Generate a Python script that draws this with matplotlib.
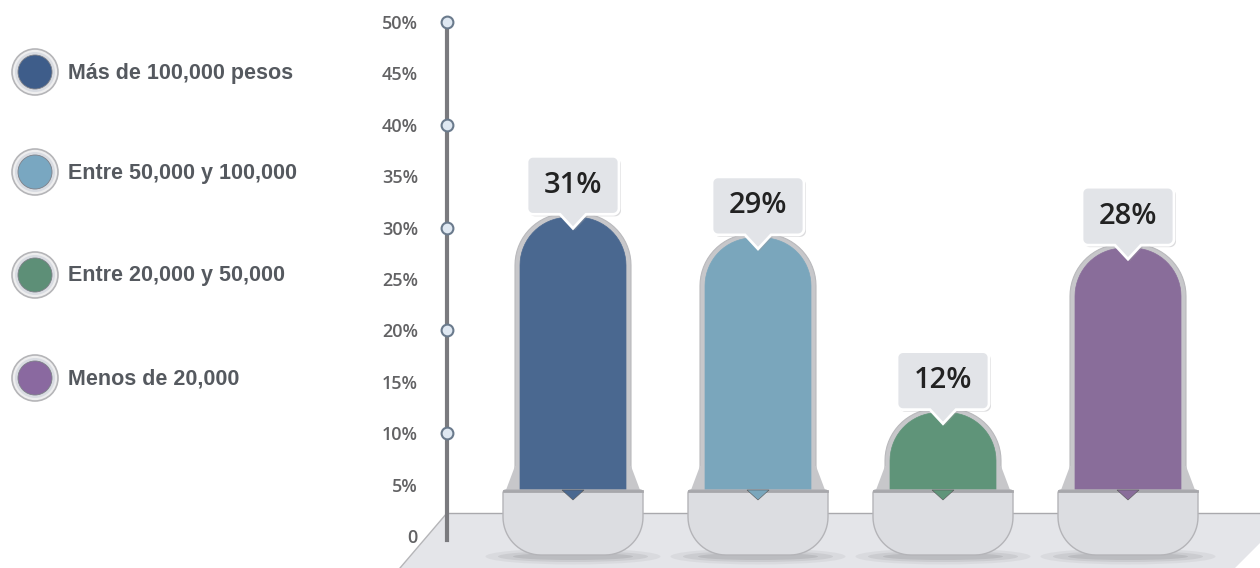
import numpy as np
import matplotlib
matplotlib.use("Agg")
import matplotlib.pyplot as plt
from matplotlib.patches import Polygon, Circle, Ellipse
from matplotlib import font_manager

# datos
categorias = ['Más de 100,000 pesos', 'Entre 50,000 y 100,000',
              'Entre 20,000 y 50,000', 'Menos de 20,000']
valores = [31, 29, 12, 28]
colores_barra = ['#4a6890', '#7aa6bc', '#5f9479', '#896d9a']
colores_leyenda = ['#3e5d8a', '#79a7c1', '#5d8f77', '#8a69a0']
ticks_y = list(range(0, 55, 5))
ticks_circulo = [10, 20, 30, 40, 50]

W, H = 1260, 568
AX_LEFT = 447          # pixel del eje vertical
ZERO_PX, TOP_PX = 536, 22
PX_CAT = 185           # separacion entre barras
X0_PX = 573            # centro de la primera barra

ppu_y = (ZERO_PX - TOP_PX) / 50.0
sy = 1 / ppu_y
sx = 1 / PX_CAT

nombres = {f.name for f in font_manager.fontManager.ttflist}
fuente_ley = [f for f in ['Liberation Sans Narrow', 'DejaVu Sans Condensed',
                          'Liberation Sans'] if f in nombres][:1] + ['DejaVu Sans']


def rrect(x0, x1, y0, y1, rt, rb, notch=None, n=18):
    """rectangulo con esquinas redondeadas (radios en px)"""
    def arc(cx, cy, r, a0, a1):
        t = np.linspace(a0, a1, n)
        return [(cx + r * sx * np.cos(a), cy + r * sy * np.sin(a)) for a in t]
    pts = []
    if rb > 0:
        pts += arc(x0 + rb * sx, y0 + rb * sy, rb, np.pi, 1.5 * np.pi)
    else:
        pts.append((x0, y0))
    if notch is not None:
        cx, w, h = notch
        pts += [(cx - w / 2 * sx, y0), (cx, y0 - h * sy), (cx + w / 2 * sx, y0)]
    if rb > 0:
        pts += arc(x1 - rb * sx, y0 + rb * sy, rb, 1.5 * np.pi, 2 * np.pi)
    else:
        pts.append((x1, y0))
    if rt > 0:
        pts += arc(x1 - rt * sx, y1 - rt * sy, rt, 0, 0.5 * np.pi)
        pts += arc(x0 + rt * sx, y1 - rt * sy, rt, 0.5 * np.pi, np.pi)
    else:
        pts += [(x1, y1), (x0, y1)]
    return pts


fig = plt.figure(figsize=(W / 100, H / 100), dpi=100)
fig.patch.set_facecolor('white')

ax = fig.add_axes([AX_LEFT / W, 0, 1 - AX_LEFT / W, 1])
ax.set_xlim(-(X0_PX - AX_LEFT) / PX_CAT, (W - X0_PX) / PX_CAT)
ax.set_ylim(-(H - ZERO_PX) * sy, 50 + TOP_PX * sy)
ax.set_facecolor('none')
for s in ['top', 'right', 'bottom']:
    ax.spines[s].set_visible(False)
ax.spines['left'].set_bounds(-0.4, 50)
ax.spines['left'].set_color('#7a7a7e')
ax.spines['left'].set_linewidth(3)
ax.spines['left'].set_zorder(6)
ax.set_xticks([])
ax.set_yticks(ticks_y)
ax.set_yticklabels(['0' if v == 0 else f'{v}%' for v in ticks_y])
ax.set_yticks(ticks_circulo, minor=True)
ax.tick_params(axis='y', which='major', length=0, pad=21, labelsize=13,
               labelcolor='#626264')
ax.tick_params(axis='y', which='minor', length=13, width=2.5, color='#7a7a7e')
for lab in ax.get_yticklabels():
    lab.set_fontfamily(['Open Sans', 'DejaVu Sans'])
    lab.set_fontweight('semibold')
ax.plot([0] * len(ticks_circulo), ticks_circulo, 'o', ms=8.5, mfc='#dfe8f2',
        mec='#6a7a8c', mew=1.5, transform=ax.get_yaxis_transform(),
        clip_on=False, zorder=7)

# piso
y_piso = (ZERO_PX - 513) * sy
y_fondo = -(H - ZERO_PX) * sy
x_izq = -(X0_PX - AX_LEFT) / PX_CAT
piso = [(x_izq, y_piso), ((1290 - X0_PX) / PX_CAT, y_piso),
        ((1235 - X0_PX) / PX_CAT, y_fondo), ((400 - X0_PX) / PX_CAT, y_fondo)]
ax.add_patch(Polygon(piso, closed=True, fc='#e4e5e9', ec='none',
                     clip_on=False, zorder=0))
ax.plot([x_izq, (1290 - X0_PX) / PX_CAT], [y_piso, y_piso], color='#a9a9ad',
        lw=1, clip_on=False, zorder=0.5)
ax.plot([x_izq, (400 - X0_PX) / PX_CAT], [y_piso, y_fondo], color='#b5b5b8',
        lw=1, clip_on=False, zorder=0.5)

# barras tipo capsula
cup_top = (ZERO_PX - 490) * sy
cup_bot = -(555 - ZERO_PX) * sy
for i, (v, c) in enumerate(zip(valores, colores_barra)):
    xc = i
    # sombra
    for w, h, a in [(175, 16, 0.10), (150, 11, 0.15), (120, 7, 0.2)]:
        ax.add_patch(Ellipse((xc, cup_bot - 1.5 * sy), w * sx, h * sy,
                             fc='#7d7d80', ec='none', alpha=a, zorder=1))
    # borde gris con ensanche
    rim = rrect(xc - 58 * sx, xc + 58 * sx, cup_top, v + 4 * sy, 52, 0)
    ax.add_patch(Polygon(rim, closed=True, fc='#c7c7ca', ec='#b9b9bc', lw=0.8,
                         zorder=2))
    flare = [(xc - 67 * sx, cup_top), (xc - 58 * sx, cup_top + 24 * sy),
             (xc + 58 * sx, cup_top + 24 * sy), (xc + 67 * sx, cup_top)]
    ax.add_patch(Polygon(flare, closed=True, fc='#c7c7ca', ec='none', zorder=2))
    # barra de color
    bar = rrect(xc - 53 * sx, xc + 53 * sx, cup_top - 1 * sy, v, 48, 0)
    ax.add_patch(Polygon(bar, closed=True, fc=c, ec=c, lw=0.5, zorder=3))
    # copa
    cup = rrect(xc - 70 * sx, xc + 70 * sx, cup_bot, cup_top, 3, 38)
    ax.add_patch(Polygon(cup, closed=True, fc='#dcdde1', ec='#b4b4b8', lw=1,
                         zorder=4))
    ax.plot([xc - 69 * sx, xc + 69 * sx], [cup_top - 1 * sy] * 2,
            color='#a7a7ab', lw=2, zorder=4.5)
    ax.add_patch(Polygon([(xc - 11 * sx, cup_top), (xc + 11 * sx, cup_top),
                          (xc, cup_top - 10 * sy)], closed=True, fc=c,
                         ec='#555555', lw=0.4, zorder=5))
    # etiqueta
    b0 = v + 3 * sy
    b1 = b0 + 58 * sy
    box = rrect(xc - 46 * sx, xc + 46 * sx, b0, b1, 6, 6, notch=(xc, 26, 14))
    sombra = [(px + 2 * sx, py - 2 * sy) for px, py in box]
    ax.add_patch(Polygon(sombra, closed=True, fc='#9a9a9e', ec='none',
                         alpha=0.35, zorder=7))
    ax.add_patch(Polygon(box, closed=True, fc='#e2e4e8', ec='white', lw=2,
                         zorder=8))
    ax.text(xc, (b0 + b1) / 2, f'{v}%', ha='center', va='center', fontsize=21,
            fontweight='semibold', color='#222222',
            family=['Open Sans', 'DejaVu Sans'], zorder=9)

# leyenda
lax = fig.add_axes([0, 0, AX_LEFT / W, 1])
lax.set_xlim(0, AX_LEFT)
lax.set_ylim(H, 0)
lax.axis('off')
ley_y = [72, 172, 275, 378]
for y, lab, c in zip(ley_y, categorias, colores_leyenda):
    lax.add_patch(Circle((35, y), 23, fc='#eeeeef', ec='#b5b5b8', lw=1.2))
    lax.add_patch(Circle((35, y), 20, fc='#d9dce2', ec='none'))
    lax.add_patch(Circle((35, y), 17, fc=c, ec='#7d8088', lw=0.6))
    lax.text(68, y + 1, lab, ha='left', va='center', fontsize=15.5,
             fontweight='bold', color='#55595f', family=fuente_ley)

plt.savefig('out.png', dpi=100)
